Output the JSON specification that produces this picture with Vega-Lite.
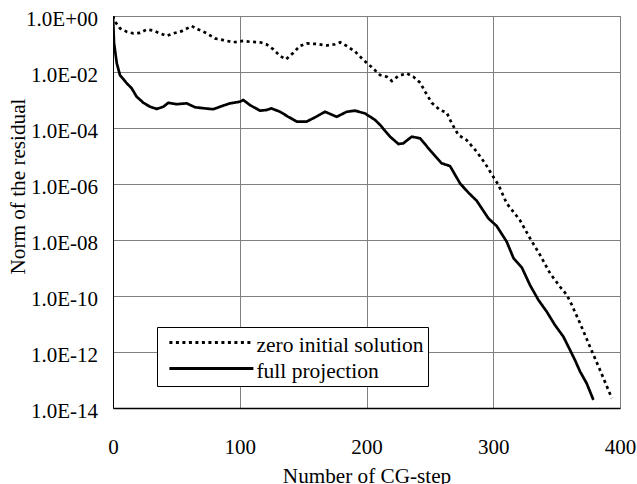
{
  "$schema": "https://vega.github.io/schema/vega-lite/v6.json",
  "width": 507,
  "height": 392,
  "autosize": {"type": "none"},
  "padding": {"left": 113, "top": 16, "right": 17, "bottom": 76},
  "background": "white",
  "config": {
    "view": {"stroke": "#808080", "strokeWidth": 1},
    "font": "Times New Roman, Liberation Serif, serif",
    "axis": {
      "labelFont": "Times New Roman, Liberation Serif, serif",
      "titleFont": "Times New Roman, Liberation Serif, serif",
      "labelFontSize": 21,
      "titleFontSize": 21.2,
      "titleFontWeight": "normal",
      "labelColor": "black",
      "titleColor": "black",
      "ticks": false,
      "grid": true,
      "gridColor": "#808080",
      "gridWidth": 1,
      "domainColor": "black",
      "labelFlush": false
    }
  },
  "data": {
    "values": [
      {"s": "zero initial solution", "x": 0, "y": 1.0},
      {"s": "zero initial solution", "x": 1.6, "y": 0.63},
      {"s": "zero initial solution", "x": 5.5, "y": 0.363},
      {"s": "zero initial solution", "x": 10.8, "y": 0.275},
      {"s": "zero initial solution", "x": 16, "y": 0.24},
      {"s": "zero initial solution", "x": 21.3, "y": 0.251},
      {"s": "zero initial solution", "x": 26.6, "y": 0.331},
      {"s": "zero initial solution", "x": 31.8, "y": 0.302},
      {"s": "zero initial solution", "x": 37, "y": 0.24},
      {"s": "zero initial solution", "x": 42.4, "y": 0.195},
      {"s": "zero initial solution", "x": 47.6, "y": 0.24},
      {"s": "zero initial solution", "x": 54.2, "y": 0.288},
      {"s": "zero initial solution", "x": 62.1, "y": 0.437},
      {"s": "zero initial solution", "x": 67.3, "y": 0.331},
      {"s": "zero initial solution", "x": 74, "y": 0.24},
      {"s": "zero initial solution", "x": 80.5, "y": 0.158},
      {"s": "zero initial solution", "x": 87, "y": 0.138},
      {"s": "zero initial solution", "x": 95, "y": 0.115},
      {"s": "zero initial solution", "x": 103, "y": 0.129},
      {"s": "zero initial solution", "x": 108, "y": 0.12},
      {"s": "zero initial solution", "x": 116, "y": 0.115},
      {"s": "zero initial solution", "x": 121, "y": 0.0977},
      {"s": "zero initial solution", "x": 126.5, "y": 0.0646},
      {"s": "zero initial solution", "x": 131.8, "y": 0.0372},
      {"s": "zero initial solution", "x": 136.5, "y": 0.0282},
      {"s": "zero initial solution", "x": 142.3, "y": 0.049},
      {"s": "zero initial solution", "x": 147.5, "y": 0.0851},
      {"s": "zero initial solution", "x": 152.8, "y": 0.105},
      {"s": "zero initial solution", "x": 160.7, "y": 0.1},
      {"s": "zero initial solution", "x": 168.6, "y": 0.0891},
      {"s": "zero initial solution", "x": 175.2, "y": 0.0977},
      {"s": "zero initial solution", "x": 179.2, "y": 0.115},
      {"s": "zero initial solution", "x": 184.4, "y": 0.0851},
      {"s": "zero initial solution", "x": 191, "y": 0.0537},
      {"s": "zero initial solution", "x": 197.6, "y": 0.0269},
      {"s": "zero initial solution", "x": 204, "y": 0.0151},
      {"s": "zero initial solution", "x": 210.7, "y": 0.00776},
      {"s": "zero initial solution", "x": 216, "y": 0.00676},
      {"s": "zero initial solution", "x": 220, "y": 0.00479},
      {"s": "zero initial solution", "x": 225.2, "y": 0.00724},
      {"s": "zero initial solution", "x": 231.8, "y": 0.00891},
      {"s": "zero initial solution", "x": 237, "y": 0.00676},
      {"s": "zero initial solution", "x": 242.3, "y": 0.00417},
      {"s": "zero initial solution", "x": 246.2, "y": 0.002},
      {"s": "zero initial solution", "x": 251.5, "y": 7.94e-4},
      {"s": "zero initial solution", "x": 258, "y": 4.37e-4},
      {"s": "zero initial solution", "x": 263.3, "y": 3.55e-4},
      {"s": "zero initial solution", "x": 267.2, "y": 1.48e-4},
      {"s": "zero initial solution", "x": 272.5, "y": 5.62e-5},
      {"s": "zero initial solution", "x": 279, "y": 3.72e-5},
      {"s": "zero initial solution", "x": 287, "y": 1.41e-5},
      {"s": "zero initial solution", "x": 293.5, "y": 5.5e-6},
      {"s": "zero initial solution", "x": 300, "y": 1.82e-6},
      {"s": "zero initial solution", "x": 304, "y": 9.5e-7},
      {"s": "zero initial solution", "x": 310.6, "y": 2.04e-7},
      {"s": "zero initial solution", "x": 321, "y": 5.13e-8},
      {"s": "zero initial solution", "x": 329, "y": 1.15e-8},
      {"s": "zero initial solution", "x": 337, "y": 2.88e-9},
      {"s": "zero initial solution", "x": 344.8, "y": 6.46e-10},
      {"s": "zero initial solution", "x": 352.7, "y": 2.14e-10},
      {"s": "zero initial solution", "x": 358, "y": 1.1e-10},
      {"s": "zero initial solution", "x": 362, "y": 4.79e-11},
      {"s": "zero initial solution", "x": 368.5, "y": 1.05e-11},
      {"s": "zero initial solution", "x": 376.3, "y": 1.55e-12},
      {"s": "zero initial solution", "x": 384.2, "y": 2.29e-13},
      {"s": "zero initial solution", "x": 393.5, "y": 2.24e-14},
      {"s": "full projection", "x": 0, "y": 1.0},
      {"s": "full projection", "x": 0.8, "y": 0.11},
      {"s": "full projection", "x": 3, "y": 0.0204},
      {"s": "full projection", "x": 5.5, "y": 0.00776},
      {"s": "full projection", "x": 10.8, "y": 0.00398},
      {"s": "full projection", "x": 14.7, "y": 0.00263},
      {"s": "full projection", "x": 18.6, "y": 0.00132},
      {"s": "full projection", "x": 24, "y": 7.94e-4},
      {"s": "full projection", "x": 29.2, "y": 5.75e-4},
      {"s": "full projection", "x": 34.5, "y": 4.79e-4},
      {"s": "full projection", "x": 39.7, "y": 5.75e-4},
      {"s": "full projection", "x": 43.6, "y": 7.94e-4},
      {"s": "full projection", "x": 50.3, "y": 7.08e-4},
      {"s": "full projection", "x": 58.2, "y": 7.59e-4},
      {"s": "full projection", "x": 64.7, "y": 5.5e-4},
      {"s": "full projection", "x": 72.6, "y": 5.01e-4},
      {"s": "full projection", "x": 79.2, "y": 4.68e-4},
      {"s": "full projection", "x": 84.4, "y": 5.75e-4},
      {"s": "full projection", "x": 92.3, "y": 7.59e-4},
      {"s": "full projection", "x": 100.2, "y": 8.71e-4},
      {"s": "full projection", "x": 102.8, "y": 1.0e-3},
      {"s": "full projection", "x": 108, "y": 6.61e-4},
      {"s": "full projection", "x": 116, "y": 4.17e-4},
      {"s": "full projection", "x": 121, "y": 4.37e-4},
      {"s": "full projection", "x": 125, "y": 5.01e-4},
      {"s": "full projection", "x": 131.8, "y": 3.8e-4},
      {"s": "full projection", "x": 138.3, "y": 2.51e-4},
      {"s": "full projection", "x": 145, "y": 1.7e-4},
      {"s": "full projection", "x": 152.8, "y": 1.7e-4},
      {"s": "full projection", "x": 159.4, "y": 2.4e-4},
      {"s": "full projection", "x": 167.3, "y": 3.8e-4},
      {"s": "full projection", "x": 176.5, "y": 2.51e-4},
      {"s": "full projection", "x": 184.4, "y": 3.8e-4},
      {"s": "full projection", "x": 191, "y": 4.17e-4},
      {"s": "full projection", "x": 198.8, "y": 3.31e-4},
      {"s": "full projection", "x": 206.7, "y": 1.95e-4},
      {"s": "full projection", "x": 210.7, "y": 1.29e-4},
      {"s": "full projection", "x": 218.6, "y": 4.9e-5},
      {"s": "full projection", "x": 225.2, "y": 2.69e-5},
      {"s": "full projection", "x": 229, "y": 2.82e-5},
      {"s": "full projection", "x": 235.7, "y": 4.9e-5},
      {"s": "full projection", "x": 242.3, "y": 4.27e-5},
      {"s": "full projection", "x": 250.1, "y": 1.62e-5},
      {"s": "full projection", "x": 259.3, "y": 5.5e-6},
      {"s": "full projection", "x": 265.9, "y": 4.37e-6},
      {"s": "full projection", "x": 273.8, "y": 1.05e-6},
      {"s": "full projection", "x": 280.4, "y": 4.9e-7},
      {"s": "full projection", "x": 287, "y": 2.51e-7},
      {"s": "full projection", "x": 296.2, "y": 5.89e-8},
      {"s": "full projection", "x": 302.7, "y": 3.16e-8},
      {"s": "full projection", "x": 310.6, "y": 8.71e-9},
      {"s": "full projection", "x": 316, "y": 2.24e-9},
      {"s": "full projection", "x": 322.5, "y": 1.05e-9},
      {"s": "full projection", "x": 329, "y": 2.45e-10},
      {"s": "full projection", "x": 335.6, "y": 7.24e-11},
      {"s": "full projection", "x": 342.2, "y": 2.75e-11},
      {"s": "full projection", "x": 348.7, "y": 9.12e-12},
      {"s": "full projection", "x": 355.3, "y": 3.55e-12},
      {"s": "full projection", "x": 360.6, "y": 1.17e-12},
      {"s": "full projection", "x": 364.5, "y": 5.13e-13},
      {"s": "full projection", "x": 368.5, "y": 2.0e-13},
      {"s": "full projection", "x": 373.7, "y": 7.59e-14},
      {"s": "full projection", "x": 379, "y": 1.95e-14}
    ]
  },
  "mark": {"type": "line", "color": "black", "strokeWidth": 2.7, "strokeCap": "butt", "clip": true},
  "encoding": {
    "x": {
      "field": "x",
      "type": "quantitative",
      "scale": {"domain": [0, 400], "nice": false},
      "axis": {
        "values": [0, 100, 200, 300, 400],
        "labelPadding": 28,
        "title": "Number of CG-step",
        "titlePadding": 8,
        "domainWidth": 1.5
      }
    },
    "y": {
      "field": "y",
      "type": "quantitative",
      "scale": {"type": "log", "domain": [1e-14, 1], "nice": false},
      "axis": {
        "values": [1e-14, 1e-12, 1e-10, 1e-8, 1e-6, 1e-4, 1e-2, 1],
        "labelExpr": "'1.0E' + (round(log(datum.value)/LN10) < 0 ? '-' : '+') + (abs(round(log(datum.value)/LN10)) < 10 ? '0' : '') + abs(round(log(datum.value)/LN10))",
        "labelPadding": 15.5,
        "labelOffset": 3.5,
        "title": "Norm of the residual",
        "titlePadding": -3,
        "titleY": 170,
        "domainWidth": 1
      }
    },
    "strokeDash": {
      "field": "s",
      "type": "nominal",
      "scale": {"domain": ["zero initial solution", "full projection"], "range": [[3, 3.5], [1, 0]]},
      "legend": {
        "title": null,
        "orient": "none",
        "legendX": 44,
        "legendY": 311,
        "fillColor": "white",
        "strokeColor": "black",
        "padding": 3.5,
        "cornerRadius": 0,
        "symbolType": "M-4,0H4",
        "symbolSize": 441,
        "symbolStrokeWidth": 3,
        "symbolStrokeColor": "black",
        "symbolOffset": 38.9,
        "labelOffset": 33,
        "labelFont": "Times New Roman, Liberation Serif, serif",
        "labelFontSize": 21.5,
        "labelColor": "black",
        "labelLimit": 400,
        "labelExpr": "datum.label + '\u00a0\u00a0'",
        "rowPadding": 0,
        "encode": {
          "labels": {
            "update": {
              "dy": {"value": 3.5}
            }
          }
        }
      }
    }
  }
}
